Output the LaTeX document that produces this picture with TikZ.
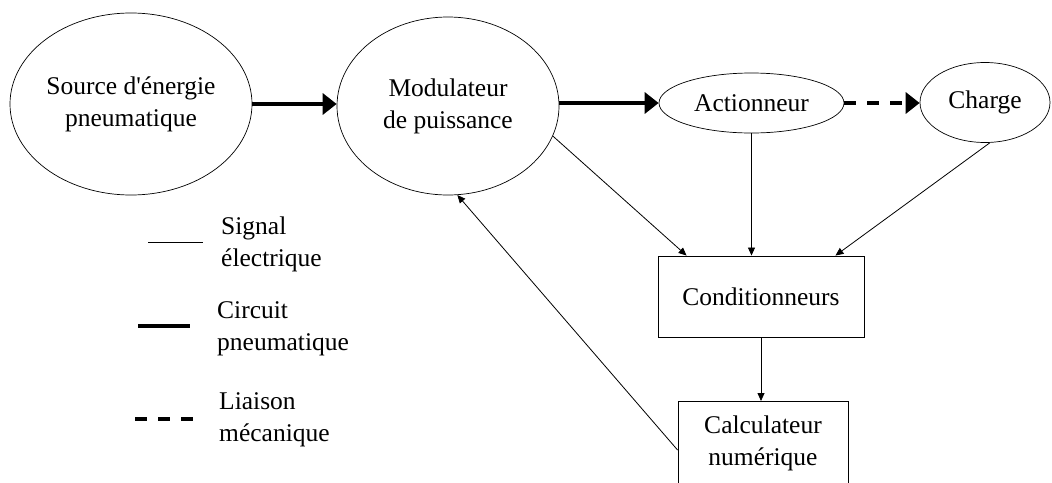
\documentclass[tikz,border=0pt]{standalone}
\usepackage{fontspec}
\setmainfont{Liberation Serif}
\usetikzlibrary{shapes.geometric,arrows.meta,calc}
\begin{document}
\begin{tikzpicture}[x=1pt,y=-1pt,
  every node/.style={font=\fontsize{25.5}{32}\selectfont},
  oval/.style={draw, ellipse, line width=0.7pt, inner sep=0pt, align=center},
  rect/.style={draw, rectangle, line width=0.9pt, inner sep=0pt, align=center},
  pneu/.style={line width=4pt, -{Triangle[length=14pt,width=21pt]}},
  meca/.style={line width=4pt, dash pattern=on 12pt off 11pt, -{Triangle[length=14pt,width=21pt]}},
  sig/.style={line width=0.8pt, -{Triangle[length=8pt,width=7pt]}},
  lbl/.style={anchor=west, align=left, inner sep=0pt}]
\useasboundingbox (0,0) rectangle (1052,482);
\clip (0,0) rectangle (1052,482);
\fill[white] (0,0) rectangle (1052,482);

\node[oval, minimum width=242, minimum height=182] (src) at (131,104) {Source d\textquotesingle énergie\\pneumatique};
\node[oval, minimum width=222, minimum height=178] (mod) at (448,106) {Modulateur\\de puissance};
\node[oval, minimum width=185, minimum height=60] (act) at (751.5,103) {Actionneur};
\node[oval, minimum width=130, minimum height=80] (chg) at (985,102.5) {Charge};
\node[rect, minimum width=206, minimum height=81] (cond) at (761,296.5) {Conditionneurs};
\node[rect, minimum width=170, minimum height=84, anchor=north] (calc) at (763,401) {Calculateur\\numérique};

\draw[pneu] (src.east) -- (src.east -| mod.west);
\draw[pneu] (mod.east |- act.west) -- (act.west);
\draw[meca] (act.east) -- (act.east -| chg.west);

\draw[sig] (mod.-16) -- ([xshift=29pt]cond.north west);
\draw[sig] (act.south) -- (act.south |- cond.north);
\draw[sig] (chg.-83) -- ([xshift=-29pt]cond.north east);
\draw[sig] (cond.south) -- (cond.south |- calc.north);
\draw[sig] ([yshift=-49pt]calc.north west) -- (mod.-84);

\coordinate (l1a) at (148,242); \coordinate (l1b) at (203,242);
\draw[line width=0.8pt] (l1a) -- (l1b);
\node[lbl] (t1) at (221,244.5) {Signal\\électrique};
\coordinate (l2a) at (138,326); \coordinate (l2b) at (190,326);
\draw[line width=4pt] (l2a) -- (l2b);
\node[lbl] (t2) at (217,328.5) {Circuit\\pneumatique};
\coordinate (l3a) at (135,419); \coordinate (l3b) at (193,419);
\draw[line width=4pt, dash pattern=on 12pt off 11pt] (l3a) -- (l3b);
\node[lbl] (t3) at (219,420) {Liaison\\mécanique};
\end{tikzpicture}
\end{document}
